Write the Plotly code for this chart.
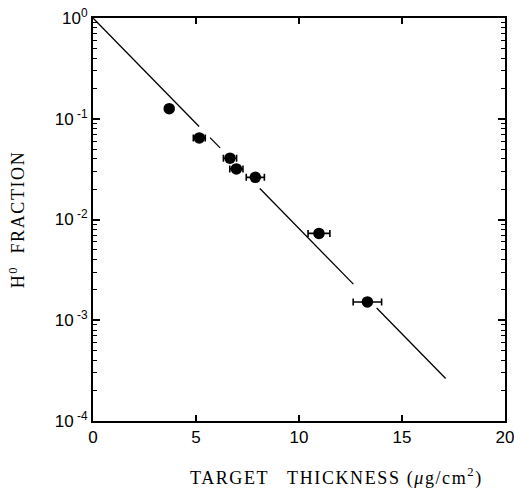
import numpy as np
import plotly.graph_objects as go

# Data points (target thickness in ug/cm^2, H0 fraction)
thickness = [3.7, 5.16, 6.65, 6.96, 7.88, 10.97, 13.32]
fraction = [0.126, 0.0645, 0.0406, 0.0318, 0.0262, 0.00728, 0.00152]
thickness_err = [0.0, 0.29, 0.32, 0.32, 0.44, 0.53, 0.69]

# Fitted exponential line: fraction = 10**(fit_slope * thickness)
fit_slope = -0.209
# Visible stretches of the drawn fit line (start, end) in thickness units
fit_starts = [0.0, 5.68, 8.1, 13.77]
fit_ends = [5.15, 6.17, 12.64, 17.12]

x_tickvals = [0, 5, 10, 15, 20]
x_ticktext = ["0", "5", "10", "15", "20"]
y_tickvals = [1, 0.1, 0.01, 0.001, 0.0001]
y_ticktext = ["10<sup>0</sup>", "10<sup> -1</sup>", "10<sup> -2</sup>",
              "10<sup> -3</sup>", "10<sup> -4</sup>"]

fig = go.Figure()

# fit line, broken into segments
lx, ly = [], []
for s, e in zip(fit_starts, fit_ends):
    xs = np.linspace(s, e, 20)
    lx += list(xs) + [None]
    ly += list(10 ** (fit_slope * xs)) + [None]
fig.add_trace(go.Scatter(x=lx, y=ly, mode="lines",
                         line=dict(color="black", width=1.3),
                         hoverinfo="skip", showlegend=False))

fig.add_trace(go.Scatter(
    x=thickness, y=fraction, mode="markers",
    marker=dict(color="black", size=11.5, symbol="circle"),
    error_x=dict(type="data", array=thickness_err, color="black",
                 thickness=1.6, width=3.5, visible=True),
    showlegend=False))

minor_vals = [m * 10.0 ** k for k in range(-4, 0) for m in range(2, 10)]

tick_font = dict(family="Liberation Sans, Arial, sans-serif", size=17, color="black")
title_font = dict(family="Liberation Serif, Times New Roman, serif", size=18, color="black")

sp = '<span style="letter-spacing:1.6px">'

fig.update_layout(
    width=514, height=492,
    margin=dict(l=93, r=9, t=18, b=71, autoexpand=False),
    paper_bgcolor="white", plot_bgcolor="white",
    xaxis=dict(
        range=[0, 20], tickvals=x_tickvals, ticktext=x_ticktext,
        ticks="inside", ticklen=6, tickwidth=1.5, tickcolor="black",
        showline=True, linecolor="black", linewidth=2, mirror="ticks",
        showgrid=False, zeroline=False, tickfont=tick_font,
        ticklabeloverflow="allow",
    ),
    yaxis=dict(
        type="log", range=[-4, 0], tickvals=y_tickvals, ticktext=y_ticktext,
        ticks="inside", ticklen=7, tickwidth=1.5, tickcolor="black",
        showline=True, linecolor="black", linewidth=2, mirror="ticks",
        showgrid=False, zeroline=False, tickfont=tick_font,
        ticklabeloverflow="allow",
        minor=dict(tickvals=minor_vals, ticks="inside", ticklen=4,
                   tickwidth=1.2, tickcolor="black", showgrid=False),
        title=dict(text=sp + "H<sup>0</sup>&nbsp; FRACTION</span>", font=title_font, standoff=25),
    ),
    annotations=[dict(
        text=sp + "TARGET&nbsp;&nbsp; THICKNESS (<i>μ</i>g/cm<sup>2</sup>)</span>",
        font=title_font, xref="paper", yref="paper", x=0.591, y=-0.138,
        xanchor="center", yanchor="middle", showarrow=False)],
)

fig.write_html("out.html", config={"displayModeBar": False},
               post_script="document.body.style.margin='0px';")
